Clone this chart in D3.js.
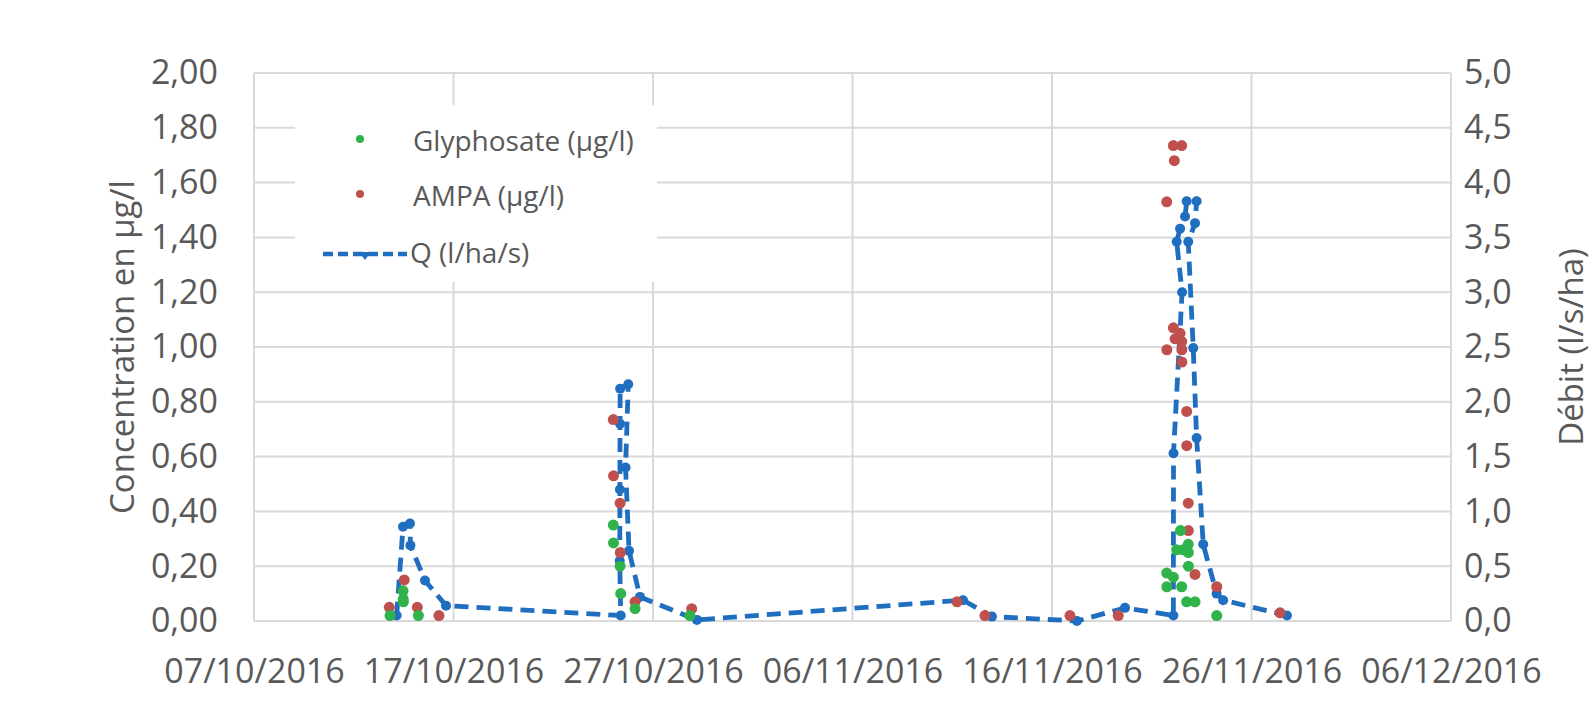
<!DOCTYPE html>
<html>
<head>
<meta charset="utf-8">
<script src="https://d3js.org/d3.v7.min.js"></script>
<style>
  body { margin: 0; background: #fff; }
  text { font-family: "Open Sans", sans-serif; fill: #595959; }
</style>
</head>
<body>
<svg id="chart" width="1594" height="707"></svg>
<script>
// tick labels
var dateTicks = ["07/10/2016", "17/10/2016", "27/10/2016", "06/11/2016", "16/11/2016", "26/11/2016", "06/12/2016"];
var concTicks = [0, 0.2, 0.4, 0.6, 0.8, 1.0, 1.2, 1.4, 1.6, 1.8, 2.0];
var qTicks = [0, 0.5, 1.0, 1.5, 2.0, 2.5, 3.0, 3.5, 4.0, 4.5, 5.0];

// Glyphosate (µg/l)
var glyDates = ["13/10/2016 19:40", "14/10/2016 11:20", "14/10/2016 11:30", "14/10/2016 11:40", "15/10/2016 05:45",
  "25/10/2016 00:15", "25/10/2016 00:30", "25/10/2016 08:25", "25/10/2016 09:10", "26/10/2016 02:25", "28/10/2016 20:25",
  "21/11/2016 18:00", "21/11/2016 18:10", "22/11/2016 02:00", "22/11/2016 06:00", "22/11/2016 10:35", "22/11/2016 12:00",
  "22/11/2016 13:55", "22/11/2016 18:00", "22/11/2016 19:55", "22/11/2016 20:00", "22/11/2016 20:05", "23/11/2016 04:05",
  "24/11/2016 06:10"];
var glyValues = [0.02, 0.11, 0.08, 0.07, 0.02,
  0.35, 0.285, 0.20, 0.10, 0.045, 0.02,
  0.175, 0.125, 0.16, 0.26, 0.33, 0.125,
  0.26, 0.07, 0.28, 0.25, 0.20, 0.07,
  0.02];

// AMPA (µg/l)
var ampaDates = ["13/10/2016 18:45", "14/10/2016 12:45", "15/10/2016 04:30", "16/10/2016 06:30",
  "25/10/2016 00:15", "25/10/2016 00:30", "25/10/2016 08:25", "25/10/2016 08:40", "26/10/2016 02:25", "28/10/2016 22:35",
  "11/11/2016 05:45", "12/11/2016 15:20", "16/11/2016 21:35", "19/11/2016 07:40",
  "21/11/2016 18:00", "21/11/2016 18:10", "22/11/2016 02:00", "22/11/2016 02:05", "22/11/2016 03:10", "22/11/2016 04:05",
  "22/11/2016 10:05", "22/11/2016 12:00", "22/11/2016 12:05", "22/11/2016 12:10", "22/11/2016 12:15",
  "22/11/2016 18:00", "22/11/2016 18:05", "22/11/2016 19:55", "22/11/2016 20:00", "23/11/2016 04:05",
  "24/11/2016 06:10", "27/11/2016 10:20"];
var ampaValues = [0.05, 0.15, 0.05, 0.02,
  0.735, 0.53, 0.43, 0.25, 0.07, 0.045,
  0.07, 0.02, 0.02, 0.02,
  1.53, 0.99, 1.735, 1.07, 1.68, 1.03,
  1.05, 1.735, 1.02, 0.99, 0.945,
  0.765, 0.64, 0.43, 0.33, 0.17,
  0.125, 0.03];

// Q (l/ha/s)
var qDates = ["14/10/2016 03:36", "14/10/2016 11:15", "14/10/2016 19:40", "14/10/2016 20:10", "15/10/2016 13:40", "16/10/2016 15:00",
  "25/10/2016 09:10", "25/10/2016 08:00", "25/10/2016 08:10", "25/10/2016 08:20", "25/10/2016 08:30", "25/10/2016 18:15",
  "25/10/2016 15:00", "25/10/2016 19:10", "26/10/2016 08:25", "29/10/2016 04:50",
  "11/11/2016 13:00", "12/11/2016 23:45", "17/11/2016 06:00", "19/11/2016 15:50",
  "22/11/2016 02:00", "22/11/2016 02:10", "22/11/2016 12:30", "22/11/2016 06:00", "22/11/2016 10:05", "22/11/2016 16:05",
  "22/11/2016 18:00", "23/11/2016 06:00", "23/11/2016 04:05", "22/11/2016 19:55", "23/11/2016 01:55", "23/11/2016 06:00",
  "23/11/2016 13:55", "24/11/2016 06:00", "24/11/2016 13:55", "27/11/2016 18:40"];
var qValues = [0.05, 0.86, 0.89, 0.69, 0.37, 0.14,
  0.05, 0.55, 1.20, 1.80, 2.12, 2.16,
  1.40, 0.64, 0.22, 0.01,
  0.19, 0.04, 0.0, 0.12,
  0.05, 1.53, 3.0, 3.46, 3.58, 3.69,
  3.83, 3.83, 3.63, 3.46, 2.49, 1.67,
  0.70, 0.25, 0.19, 0.05];

var seriesColors = {gly: "#2fb34a", ampa: "#c0504d", q: "#1f6ebf"};

var svg = d3.select("#chart"),
    margin = {top: 73, right: 143, bottom: 86, left: 254},
    width = +svg.attr("width"),
    height = +svg.attr("height"),
    plotW = width - margin.left - margin.right,
    plotH = height - margin.top - margin.bottom;

var parseTime = d3.timeParse("%d/%m/%Y %H:%M"),
    parseDay = d3.timeParse("%d/%m/%Y");

var fr = d3.formatLocale({decimal: ",", thousands: " ", grouping: [3], currency: ["", " €"]});

var x = d3.scaleTime()
    .domain([parseDay(dateTicks[0]), parseDay(dateTicks[dateTicks.length - 1])])
    .range([0, plotW]);

var yConc = d3.scaleLinear().domain([0, 2]).range([plotH, 0]);
var yQ = d3.scaleLinear().domain([0, 5]).range([plotH, 0]);

var g = svg.append("g")
    .attr("transform", "translate(" + margin.left + "," + margin.top + ")");

// grid
g.append("g").selectAll("line")
    .data(concTicks)
    .enter().append("line")
    .attr("x1", 0).attr("x2", plotW)
    .attr("y1", function(d) { return yConc(d); })
    .attr("y2", function(d) { return yConc(d); })
    .attr("stroke", "#d9d9d9").attr("stroke-width", 2);

g.append("g").selectAll("line")
    .data(dateTicks)
    .enter().append("line")
    .attr("x1", function(d) { return x(parseDay(d)); })
    .attr("x2", function(d) { return x(parseDay(d)); })
    .attr("y1", 0).attr("y2", plotH)
    .attr("stroke", "#d9d9d9").attr("stroke-width", 2);

// axes (labels only)
var leftAxis = d3.axisLeft(yConc).tickValues(concTicks).tickFormat(fr.format(".2f")).tickSize(0).tickPadding(36);
g.append("g").call(leftAxis)
    .call(function(s) { s.select(".domain").remove(); })
    .selectAll("text").style("font-size", "34px").attr("fill", "#595959");

var rightAxis = d3.axisRight(yQ).tickValues(qTicks).tickFormat(fr.format(".1f")).tickSize(0).tickPadding(13);
g.append("g").attr("transform", "translate(" + plotW + ",0)").call(rightAxis)
    .call(function(s) { s.select(".domain").remove(); })
    .selectAll("text").style("font-size", "34px").attr("fill", "#595959");

var bottomAxis = d3.axisBottom(x).tickValues(dateTicks.map(parseDay)).tickFormat(d3.timeFormat("%d/%m/%Y")).tickSize(0).tickPadding(38);
g.append("g").attr("transform", "translate(0," + plotH + ")").call(bottomAxis)
    .call(function(s) { s.select(".domain").remove(); })
    .selectAll("text").style("font-size", "34px").attr("fill", "#595959");

// axis titles
svg.append("text")
    .attr("transform", "translate(122," + (margin.top + plotH / 2) + ") rotate(-90)")
    .attr("text-anchor", "middle").attr("dy", "0.35em")
    .style("font-size", "33px")
    .text("Concentration en µg/l");

svg.append("text")
    .attr("transform", "translate(1571," + (margin.top + plotH / 2) + ") rotate(-90)")
    .attr("text-anchor", "middle").attr("dy", "0.35em")
    .style("font-size", "33px")
    .text("Débit (l/s/ha)");

// Q line
var qData = qDates.map(function(d, i) { return {t: parseTime(d), v: qValues[i]}; });
var line = d3.line()
    .x(function(d) { return x(d.t); })
    .y(function(d) { return yQ(d.v); });

g.append("path")
    .datum(qData)
    .attr("d", line)
    .attr("fill", "none")
    .attr("stroke", seriesColors.q)
    .attr("stroke-width", 4.8)
    .attr("stroke-dasharray", "14,8");

g.append("g").selectAll("circle")
    .data(qData)
    .enter().append("circle")
    .attr("cx", function(d) { return x(d.t); })
    .attr("cy", function(d) { return yQ(d.v); })
    .attr("r", 5)
    .attr("fill", seriesColors.q);

// AMPA and glyphosate points
var ampaData = ampaDates.map(function(d, i) { return {t: parseTime(d), v: ampaValues[i]}; });
var glyData = glyDates.map(function(d, i) { return {t: parseTime(d), v: glyValues[i]}; });

g.append("g").selectAll("circle")
    .data(ampaData)
    .enter().append("circle")
    .attr("cx", function(d) { return x(d.t); })
    .attr("cy", function(d) { return yConc(d.v); })
    .attr("r", 5.5)
    .attr("fill", seriesColors.ampa);

g.append("g").selectAll("circle")
    .data(glyData)
    .enter().append("circle")
    .attr("cx", function(d) { return x(d.t); })
    .attr("cy", function(d) { return yConc(d.v); })
    .attr("r", 5.5)
    .attr("fill", seriesColors.gly);

// legend
var legend = svg.append("g");
legend.append("rect")
    .attr("x", 295).attr("y", 105).attr("width", 362).attr("height", 177)
    .attr("fill", "#fff");

legend.append("circle").attr("cx", 360).attr("cy", 139).attr("r", 4).attr("fill", seriesColors.gly);
legend.append("text").attr("x", 413).attr("y", 141).attr("dy", "0.35em").style("font-size", "28px").text("Glyphosate (µg/l)");

legend.append("circle").attr("cx", 360).attr("cy", 194).attr("r", 4).attr("fill", seriesColors.ampa);
legend.append("text").attr("x", 413).attr("y", 196).attr("dy", "0.35em").style("font-size", "28px").text("AMPA (µg/l)");

legend.append("line").attr("x1", 323).attr("x2", 407).attr("y1", 254).attr("y2", 254)
    .attr("stroke", seriesColors.q).attr("stroke-width", 4.5).attr("stroke-dasharray", "10,5");
legend.append("path").attr("d", "M359,252 L371,252 L365,260 Z").attr("fill", seriesColors.q);
legend.append("text").attr("x", 410).attr("y", 253).attr("dy", "0.35em").style("font-size", "28px").text("Q (l/ha/s)");
</script>
</body>
</html>
